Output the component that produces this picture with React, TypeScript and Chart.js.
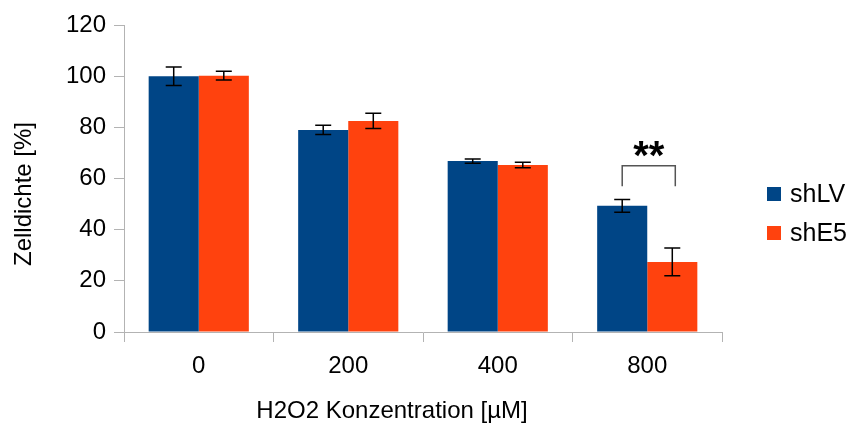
import React, { useEffect, useRef } from "react";
import { Chart, registerables } from "chart.js";

Chart.register(...registerables);

const categories = ["0", "200", "400", "800"];
const seriesNames = ["shLV", "shE5"];
const shLV = [100, 79, 66.8, 49.3];
const shLVErr = [3.6, 1.8, 0.8, 2.5];
const shE5 = [100.2, 82.5, 65.3, 27.4];
const shE5Err = [1.7, 3.0, 1.1, 5.4];
const yTicks = [0, 20, 40, 60, 80, 100, 120];
const sigCategoryIndex = 3;
const sigLabel = "**";
const sigBracketTop = 65;
const sigBracketBottom = 57;
const xTitle = "H2O2 Konzentration [µM]";
const yTitle = "Zelldichte [%]";

const colors = ["#004586", "#ff420e"];
const FONT = "'Liberation Sans', Arial, sans-serif";
const AXIS_GREY = "#b3b3b3";

const errorBarPlugin = {
  id: "errorBars",
  afterDatasetsDraw(chart: any) {
    const ctx = chart.ctx;
    const ys = chart.scales.y;
    chart.data.datasets.forEach((ds: any, di: number) => {
      const meta = chart.getDatasetMeta(di);
      meta.data.forEach((el: any, i: number) => {
        const v = ds.data[i];
        const e = ds.errors[i];
        const x = el.x;
        const yTop = ys.getPixelForValue(v + e);
        const yBot = ys.getPixelForValue(v - e);
        ctx.save();
        ctx.strokeStyle = "#000";
        ctx.lineWidth = 1.5;
        ctx.beginPath();
        ctx.moveTo(x, yTop);
        ctx.lineTo(x, yBot);
        ctx.moveTo(x - 8, yTop);
        ctx.lineTo(x + 8, yTop);
        ctx.moveTo(x - 8, yBot);
        ctx.lineTo(x + 8, yBot);
        ctx.stroke();
        ctx.restore();
      });
    });
  },
};

const significancePlugin = {
  id: "significance",
  afterDatasetsDraw(chart: any) {
    const ctx = chart.ctx;
    const ys = chart.scales.y;
    const a = chart.getDatasetMeta(0).data[sigCategoryIndex];
    const b = chart.getDatasetMeta(1).data[sigCategoryIndex];
    if (!a || !b) return;
    const yTop = ys.getPixelForValue(sigBracketTop);
    const yBot = ys.getPixelForValue(sigBracketBottom);
    ctx.save();
    ctx.strokeStyle = "#555";
    ctx.lineWidth = 1.5;
    ctx.beginPath();
    ctx.moveTo(a.x, yBot);
    ctx.lineTo(a.x, yTop);
    ctx.lineTo(b.x + 3, yTop);
    ctx.lineTo(b.x + 3, yBot);
    ctx.stroke();
    ctx.fillStyle = "#000";
    ctx.font = "bold 40px " + FONT;
    ctx.textAlign = "center";
    ctx.textBaseline = "alphabetic";
    ctx.fillText(sigLabel, (a.x + b.x + 3) / 2, yTop + 3);
    ctx.restore();
  },
};

const titlesPlugin = {
  id: "axisTitles",
  afterDraw(chart: any) {
    const ctx = chart.ctx;
    const area = chart.chartArea;
    ctx.save();
    ctx.fillStyle = "#000";
    ctx.font = "24px " + FONT;
    ctx.textAlign = "center";
    ctx.textBaseline = "middle";
    ctx.fillText(xTitle, area.left + 268, area.bottom + 79);
    ctx.translate(24, area.top + 169);
    ctx.rotate(-Math.PI / 2);
    ctx.fillText(yTitle, 0, 0);
    ctx.restore();
  },
};

const legendPlugin = {
  id: "customLegend",
  afterDraw(chart: any) {
    const ctx = chart.ctx;
    const area = chart.chartArea;
    const x0 = area.right + 45;
    const yStart = 187;
    const step = 39;
    ctx.save();
    ctx.font = "25px " + FONT;
    ctx.textBaseline = "middle";
    ctx.textAlign = "left";
    chart.data.datasets.forEach((ds: any, i: number) => {
      const y = yStart + i * step;
      ctx.fillStyle = ds.backgroundColor;
      ctx.fillRect(x0, y, 14, 14);
      ctx.fillStyle = "#000";
      ctx.fillText(ds.label, x0 + 23, y + 8);
    });
    ctx.restore();
  },
};

export default function App() {
  const canvasRef = useRef<HTMLCanvasElement | null>(null);

  useEffect(() => {
    document.body.style.margin = "0";
    const canvas = canvasRef.current;
    if (!canvas) return;
    const chart = new Chart(canvas, {
      type: "bar",
      data: {
        labels: categories,
        datasets: [
          {
            label: seriesNames[0],
            data: shLV,
            errors: shLVErr,
            backgroundColor: colors[0],
            borderWidth: 0,
          } as any,
          {
            label: seriesNames[1],
            data: shE5,
            errors: shE5Err,
            backgroundColor: colors[1],
            borderWidth: 0,
          } as any,
        ],
      },
      options: {
        animation: false,
        responsive: true,
        maintainAspectRatio: false,
        layout: { padding: { top: 25, right: 132, left: 0, bottom: 0 } },
        datasets: { bar: { categoryPercentage: 0.67, barPercentage: 1 } },
        plugins: {
          legend: { display: false },
          tooltip: { enabled: false },
        },
        scales: {
          x: {
            grid: {
              offset: true,
              drawOnChartArea: false,
              drawTicks: true,
              tickLength: 10,
              color: AXIS_GREY,
              lineWidth: 1,
            },
            border: { color: AXIS_GREY, width: 1 },
            ticks: {
              color: "#000",
              font: { family: FONT, size: 24 },
              padding: 10,
            },
            title: { display: false },
            afterFit(s: any) {
              s.height = 96;
            },
          },
          y: {
            min: 0,
            max: 120,
            grid: {
              drawOnChartArea: false,
              drawTicks: true,
              tickLength: 10,
              color: AXIS_GREY,
              lineWidth: 1,
            },
            border: { color: AXIS_GREY, width: 1 },
            ticks: {
              color: "#000",
              font: { family: FONT, size: 24 },
              padding: 8,
            },
            afterBuildTicks(s: any) {
              s.ticks = yTicks.map((v) => ({ value: v }));
            },
            title: { display: false },
            afterFit(s: any) {
              s.width = 124;
            },
          },
        },
      } as any,
      plugins: [errorBarPlugin, significancePlugin, titlesPlugin, legendPlugin],
    });
    return () => chart.destroy();
  }, []);

  return (
    <div style={{ width: 854, height: 428, position: "relative" }}>
      <canvas ref={canvasRef} />
    </div>
  );
}
